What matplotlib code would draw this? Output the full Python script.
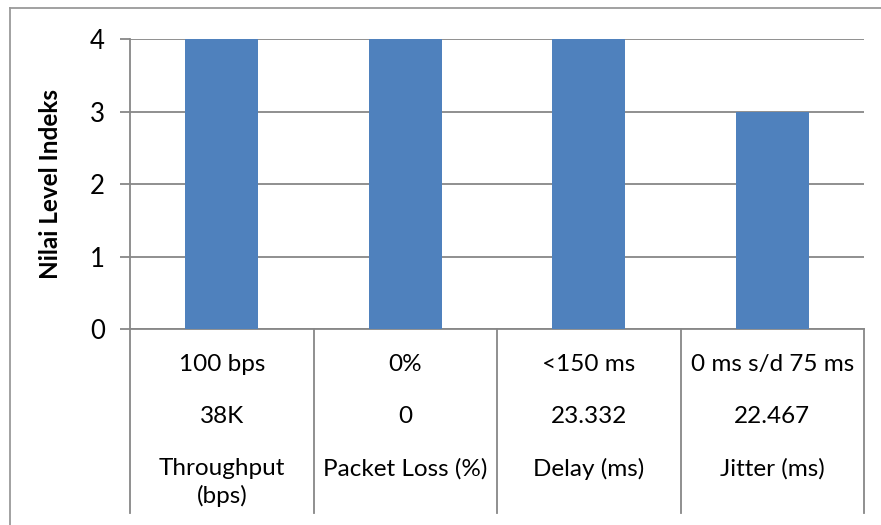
import matplotlib
matplotlib.use('Agg')
import matplotlib.pyplot as plt
from matplotlib.lines import Line2D

# === Data ===
parameters = ['Throughput\n(bps)', 'Packet Loss (%)', 'Delay (ms)', 'Jitter (ms)']
measured = ['38K', '0', '23.332', '22.467']
standard = ['100 bps', '0%', '<150 ms', '0 ms s/d 75 ms']
index_level = [4, 4, 4, 3]
y_ticks = [0, 1, 2, 3, 4]

plt.rcParams['font.family'] = ['Lato', 'DejaVu Sans']

bar_color = '#4F81BD'
line_color = '#878787'
label_size = 17.5

fig = plt.figure(figsize=(8.81, 5.25), dpi=100)
ax = fig.add_axes([0.1476, 0.3733, 0.9807 - 0.1476, 0.9257 - 0.3733])

x = list(range(len(index_level)))
ax.bar(x, index_level, width=0.4, color=bar_color, zorder=3)

ax.set_xlim(-0.5, len(index_level) - 0.5)
ax.set_ylim(0, 4)
ax.set_yticks(y_ticks)
ax.tick_params(axis='y', labelsize=18.5, length=7, width=1.3, color=line_color, pad=11)
ax.set_xticks([])
ax.yaxis.grid(True, color=line_color, linewidth=1.3, zorder=0)
ax.set_axisbelow(True)

for side in ['top', 'right']:
    ax.spines[side].set_visible(False)
for side in ['left', 'bottom']:
    ax.spines[side].set_color(line_color)
    ax.spines[side].set_linewidth(1.3)

ax.set_ylabel('Nilai Level Indeks', fontsize=17.5, fontweight='bold', labelpad=20)

# === Category table under the axis ===
trans = ax.get_xaxis_transform()
for b in range(len(index_level) + 1):
    ax.add_line(Line2D([b - 0.5, b - 0.5], [0, -0.634], transform=trans,
                       color=line_color, linewidth=1.3, clip_on=False))

for i in x:
    ax.text(i, -0.124, standard[i], transform=trans, ha='center', va='center', fontsize=label_size)
    ax.text(i, -0.303, measured[i], transform=trans, ha='center', va='center', fontsize=label_size)
    ax.text(i, -0.445, parameters[i], transform=trans, ha='center', va='top', fontsize=label_size,
            linespacing=1.35)

# === Outer chart frame ===
fig.add_artist(Line2D([0.0114, 0.0114], [0.0, 0.9848], transform=fig.transFigure,
                      color='#9a9a9a', linewidth=1.3))
fig.add_artist(Line2D([0.0114, 1.0], [0.9848, 0.9848], transform=fig.transFigure,
                      color='#9a9a9a', linewidth=1.3))

fig.savefig('out.png', dpi=100, facecolor='white')
